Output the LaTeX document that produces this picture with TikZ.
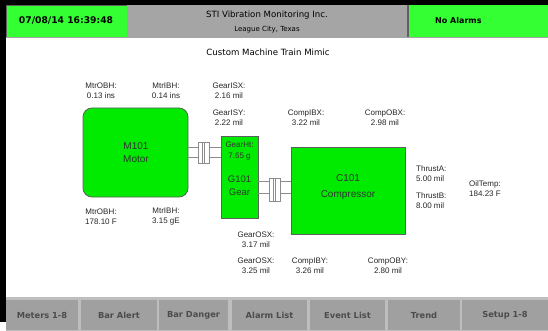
\documentclass[tikz,border=0pt]{standalone}
\usepackage{fontspec}
\setmainfont{DejaVu Sans}
\newfontfamily\labfont{Liberation Sans}
\definecolor{hgreen}{RGB}{51,255,51}
\definecolor{bgreen}{RGB}{0,235,0}
\definecolor{hgray}{RGB}{165,165,165}
\definecolor{btngray}{RGB}{160,160,160}
\definecolor{btnedge}{RGB}{190,190,190}
\definecolor{edgegray}{RGB}{95,95,95}
\definecolor{shaftgray}{RGB}{140,140,140}
\begin{document}
\begin{tikzpicture}[x=1pt,y=-1pt,
  lbl/.style={font=\labfont\fontsize{8}{10}\selectfont, align=center, inner sep=0pt, text=black!85},
  lblw/.style={lbl, align=left, anchor=west},
  machine/.style={draw=edgegray, fill=bgreen, line width=0.8pt, inner sep=0pt},
  mtext/.style={font=\labfont\fontsize{10}{13}\selectfont, align=center, inner sep=0pt, text=black!80},
  shaft/.style={draw=shaftgray, line width=0.8pt},
  coupling/.style={draw=shaftgray, fill=white, line width=0.8pt, inner sep=0pt, minimum width=11pt},
  button/.style={fill=btngray, inner sep=0pt, minimum height=30pt, font=\bfseries\fontsize{8.3}{10}\selectfont, text=black!70},
  hdr/.style={inner sep=0pt}]
\useasboundingbox (0,0) rectangle (548,331);
\fill[white] (0,0) rectangle (548,331);
% frame
\fill[black] (0,0) rectangle (548,5);
\fill[black] (0,0) rectangle (6,322);
% header
\fill[hgreen] (6,5) rectangle (127,37);
\draw[edgegray, line width=0.6pt] (6,5) rectangle (127,37);
\fill[hgray] (127,5) rectangle (407,37);
\fill[edgegray] (407,5) rectangle (409,37);
\fill[hgreen] (409,5) rectangle (548,37);
\fill[hgray] (6,37) rectangle (548,38.5);
\node[hdr, font=\bfseries\fontsize{9.2}{11}\selectfont] (date) at (66,21) {07/08/14 16:39:48};
\node[hdr, font=\fontsize{8.6}{10}\selectfont] (company) at (267,15) {STI Vibration Monitoring Inc.};
\node[hdr, font=\fontsize{7}{9}\selectfont] (city) at (267,30) {League City, Texas};
\node[hdr, anchor=west, font=\bfseries\fontsize{8}{10}\selectfont] (alarms) at (435,21) {No Alarms};
% title
\node[hdr, font=\fontsize{8.6}{10}\selectfont] (title) at (268,52) {Custom Machine Train Mimic};
% machines
\node[machine, rounded corners=9pt, minimum width=105pt, minimum height=89pt] (motor) at (135.5,152.5) {};
\node[mtext] (motortxt) at (136,152.5) {M101\\Motor};
\node[machine, minimum width=37pt, minimum height=82pt] (gear) at (239.5,177) {};
\node[mtext, font=\labfont\fontsize{8}{11}\selectfont] (gearht) at (239.5,151.5) {GearHt:\\7.65 g};
\node[mtext, font=\labfont\fontsize{9.5}{13}\selectfont] (gearname) at (239.5,185.5) {G101\\Gear};
\node[machine, minimum width=114pt, minimum height=87pt] (comp) at (348,190.5) {};
\node[mtext, font=\labfont\fontsize{10}{16}\selectfont] (comptxt) at (348,187) {C101\\Compressor};
% couplings and shafts
\coordinate (s1) at (203.5,152);
\coordinate (s2) at (274.5,187);
\draw[shaft] ([yshift=5pt]s1 -| motor.east) -- ([yshift=5pt]s1 -| gear.west);
\draw[shaft] ([yshift=-5pt]s1 -| motor.east) -- ([yshift=-5pt]s1 -| gear.west);
\draw[shaft] ([yshift=6pt]s2 -| gear.east) -- ([yshift=6pt]s2 -| comp.west);
\draw[shaft] ([yshift=-6pt]s2 -| gear.east) -- ([yshift=-6pt]s2 -| comp.west);
\node[coupling, minimum height=21pt] (c1) at (203.5,152.5) {};
\draw[shaft] ([xshift=-1.2pt]c1.north) -- ([xshift=-1.2pt]c1.south);
\draw[shaft] ([xshift=1.2pt]c1.north) -- ([xshift=1.2pt]c1.south);
\node[coupling, minimum height=23pt] (c2) at (274.5,189.5) {};
\draw[shaft] ([xshift=-1.2pt]c2.north) -- ([xshift=-1.2pt]c2.south);
\draw[shaft] ([xshift=1.2pt]c2.north) -- ([xshift=1.2pt]c2.south);
% labels
\node[lbl] (l1) at (101,91) {MtrOBH:\\0.13 ins};
\node[lbl] (l2) at (166,91) {MtrIBH:\\0.14 ins};
\node[lbl] (l3) at (229,91) {GearISX:\\2.16 mil};
\node[lbl] (l4) at (229,118) {GearISY:\\2.22 mil};
\node[lbl] (l5) at (306,118) {CompIBX:\\3.22 mil};
\node[lbl] (l6) at (385,118) {CompOBX:\\2.98 mil};
\node[lblw] (l7) at (416,173.5) {ThrustA:\\5.00 mil};
\node[lblw] (l8) at (416,200.5) {ThrustB:\\8.00 mil};
\node[lblw] (l9) at (469,189) {OilTemp:\\184.23 F};
\node[lbl] (l10) at (101,216.5) {MtrOBH:\\178.10 F};
\node[lbl] (l11) at (166,216.5) {MtrIBH:\\3.15 gE};
\node[lbl] (l12) at (256,239.5) {GearOSX:\\3.17 mil};
\node[lbl] (l13) at (256,266) {GearOSX:\\3.25 mil};
\node[lbl] (l14) at (310,266) {CompIBY:\\3.26 mil};
\node[lbl] (l15) at (388,266) {CompOBY:\\2.80 mil};
% button bar
\fill[btnedge] (6,297) rectangle (548,331);
\node[button, minimum width=72pt] (b1) at (42,315) {Meters 1-8};
\node[button, minimum width=76pt] (b2) at (119,315) {Bar Alert};
\node[button, minimum width=69pt] (b3) at (193.5,315) {Bar Danger};
\node[button, minimum width=75pt] (b4) at (269.5,315) {Alarm List};
\node[button, minimum width=75pt] (b5) at (347.5,315) {Event List};
\node[button, minimum width=72pt] (b6) at (424,315) {Trend};
\node[button, minimum width=86pt] (b7) at (505,315) {Setup 1-8};
\end{tikzpicture}
\end{document}
